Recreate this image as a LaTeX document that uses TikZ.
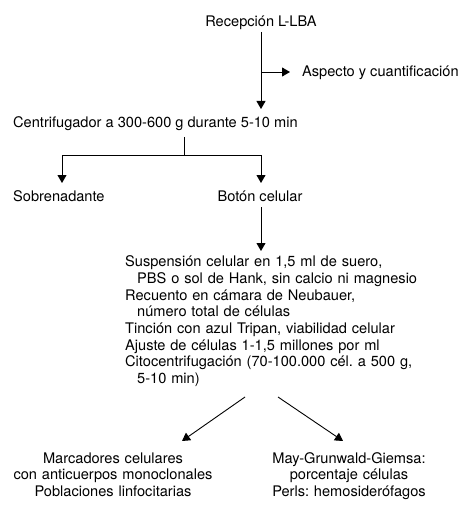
\documentclass[tikz,border=0pt]{standalone}
\usepackage{fontspec}
\setmainfont{TeX Gyre Heros}
\usetikzlibrary{arrows.meta}
\frenchspacing
\begin{document}
\begin{tikzpicture}[x=1pt,y=-1pt,
  lbl/.style={inner sep=0pt, font=\fontsize{14.6}{16.7}\selectfont},
  conn/.style={line width=0.9pt, -{Triangle[length=8pt,width=9pt]}},
  plain/.style={line width=0.9pt}]
\fill[white] (0,0) rectangle (474,513);
\useasboundingbox (0,0) rectangle (474,513);
% nodes
\node[lbl, anchor=base] (rec) at (261,27) {Recepción L-LBA};
\node[lbl, anchor=base west] (asp) at (302,77) {Aspecto y cuantificación};
\node[lbl, anchor=base west] (cen) at (13,128) {Centrifugador a 300-600 g durante 5-10 min};
\node[lbl, anchor=base west] (sob) at (13,201) {Sobrenadante};
\node[lbl, anchor=base] (bot) at (260,201) {Botón celular};
\node[lbl, anchor=base west, text width=340pt, align=left] (sus) at (125,266.7) {%
\hyphenpenalty=10000\exhyphenpenalty=10000
Suspensión celular en 1,5 ml de suero,\\
\hspace*{12pt}PBS o sol de Hank, sin calcio ni magnesio\\
Recuento en cámara de Neubauer,\\
\hspace*{12pt}número total de células\\
Tinción con azul Tripan, viabilidad celular\\
Ajuste de células 1-1,5 millones por ml\\
Citocentrifugación (70-100.000 cél. a 500 g,\\
\hspace*{12pt}5-10 min)};
\node[lbl, anchor=base, text width=230pt, align=center] (mar) at (113,463) {%
Marcadores celulares\\con anticuerpos monoclonales\\Poblaciones linfocitarias};
\node[lbl, anchor=base, text width=230pt, align=center] (may) at (349,463) {%
May-Grunwald-Giemsa:\\porcentaje células\\Perls: hemosiderófagos};
% connector points
\coordinate (r0) at (261,32);
\coordinate (r1) at (261,109);
\coordinate (rb) at (261,72);
\coordinate (ra) at (290,72);
\coordinate (c0) at (184,137);
\coordinate (c1) at (184,155);
\coordinate (cl) at (62,155);
\coordinate (cr) at (261,155);
\coordinate (sl) at (62,183);
\coordinate (sr) at (261,183);
\coordinate (b0) at (261,207);
\coordinate (b1) at (261,251);
\coordinate (dl0) at (245,397);
\coordinate (dl1) at (182,441);
\coordinate (dr0) at (278,397);
\coordinate (dr1) at (343,441);
% connectors
\draw[conn] (r0) -- (r1);
\draw[conn] (rb) -- (ra);
\draw[plain] (c0) -- (c1);
\draw[plain] (cl) -- (cr);
\draw[conn] (cl) -- (sl);
\draw[conn] (cr) -- (sr);
\draw[conn] (b0) -- (b1);
\draw[conn] (dl0) -- (dl1);
\draw[conn] (dr0) -- (dr1);
\end{tikzpicture}
\end{document}
